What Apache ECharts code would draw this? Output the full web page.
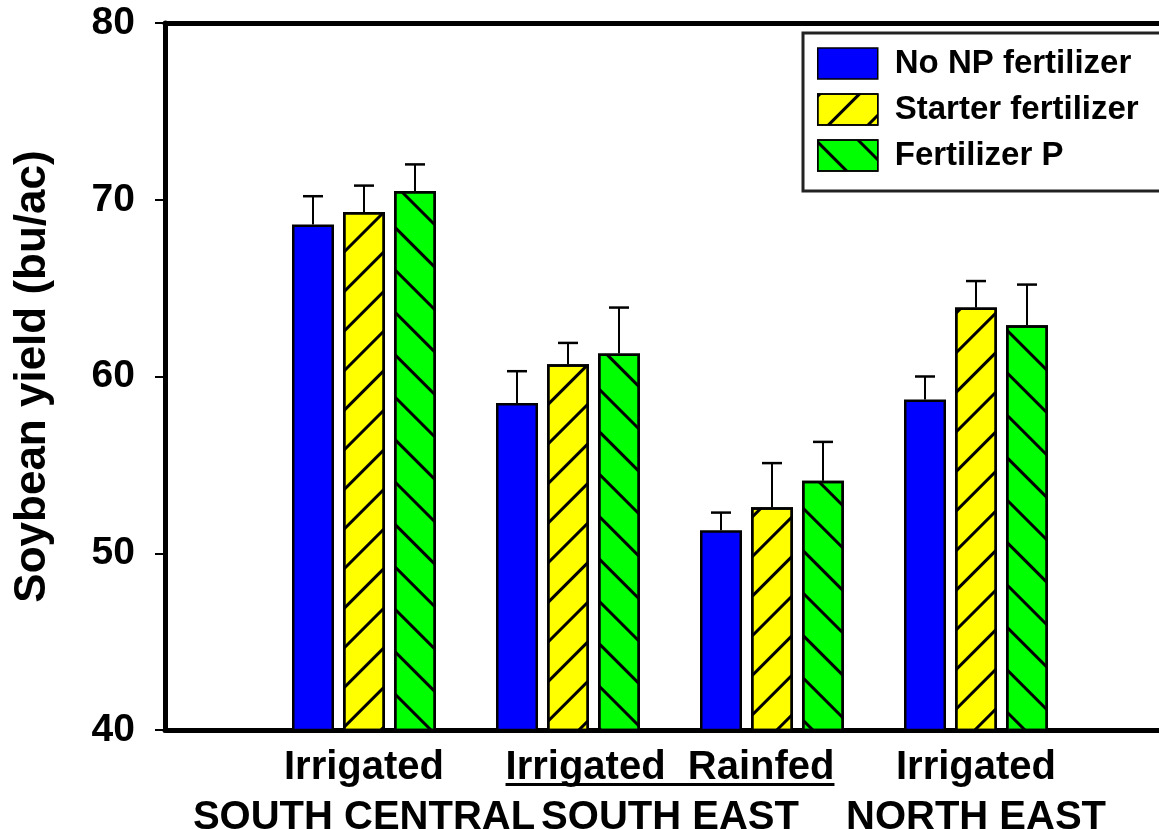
<!DOCTYPE html>
<html>
<head>
<meta charset="utf-8">
<script src="https://cdn.jsdelivr.net/npm/echarts@6/dist/echarts.min.js"></script>
<style>
html,body{margin:0;padding:0;background:#fff;}
#chart{width:1159px;height:829px;}
</style>
</head>
<body>
<div id="chart"></div>
<script>
// ---- data ----
var categories = ['SOUTH CENTRAL Irrigated', 'SOUTH EAST Irrigated', 'SOUTH EAST Rainfed', 'NORTH EAST Irrigated'];
var seriesNames = ['No NP fertilizer', 'Starter fertilizer', 'Fertilizer P'];
var noNP      = [68.6, 58.5, 51.3, 58.7];
var noNPErr   = [1.6, 1.8, 1.0, 1.3];
var starter   = [69.3, 60.7, 52.6, 63.9];
var starterErr= [1.5, 1.2, 2.5, 1.5];
var fertP     = [70.5, 61.3, 54.1, 62.9];
var fertPErr  = [1.5, 2.6, 2.2, 2.3];
var yTicks = [40, 50, 60, 70, 80];
// water-regime line (first label row) and region line (second row), each spanning category indexes
var waterLabels = [
  {text: 'Irrigated', from: 0, to: 0, underline: false},
  {text: 'Irrigated  Rainfed', from: 1, to: 2, underline: true},
  {text: 'Irrigated', from: 3, to: 3, underline: false}
];
var regionLabels = [
  {text: 'SOUTH CENTRAL', from: 0, to: 0},
  {text: 'SOUTH EAST', from: 1, to: 2},
  {text: 'NORTH EAST', from: 3, to: 3}
];

// ---- style ----
var FONT = '"Liberation Sans", Arial, Helvetica, sans-serif';
var BAR_W = 42, BAR_GAP = 9;
var colors = ['#0000ff', '#ffff00', '#00ff00'];
var decals = [
  null,
  {symbol: 'rect', symbolSize: 1, dashArrayX: [1, 0], dashArrayY: [3, 25], rotation: -Math.PI / 4, color: '#000'},
  {symbol: 'rect', symbolSize: 1, dashArrayX: [1, 0], dashArrayY: [3, 27], rotation: Math.PI / 4, color: '#000'}
];
var values = [noNP, starter, fertP];
var errs = [noNPErr, starterErr, fertPErr];

var chart = echarts.init(document.getElementById('chart'), null, {renderer: 'canvas'});

var series = [];
values.forEach(function (vals, k) {
  var st = {color: colors[k], borderColor: '#000', borderWidth: 2.5};
  if (decals[k]) st.decal = decals[k];
  series.push({
    name: seriesNames[k], type: 'bar', xAxisIndex: 1, yAxisIndex: 1,
    barWidth: BAR_W, barGap: (BAR_GAP / BAR_W * 100) + '%',
    itemStyle: st, data: vals, z: 3
  });
});
values.forEach(function (vals, k) {
  var offset = (k - 1) * (BAR_W + BAR_GAP);
  series.push({
    type: 'custom', xAxisIndex: 1, yAxisIndex: 1, z: 4, silent: true,
    data: vals.map(function (v, i) { return [i, v, errs[k][i]]; }),
    encode: {x: 0, y: 1},
    renderItem: function (params, api) {
      var i = api.value(0), v = api.value(1), e = api.value(2);
      var b = api.coord([i, v]), t = api.coord([i, v + e]);
      var x = b[0] + offset;
      return {type: 'group', children: [
        {type: 'line', shape: {x1: x, y1: b[1], x2: x, y2: t[1]}, style: {stroke: '#000', lineWidth: 2}},
        {type: 'line', shape: {x1: x - 10, y1: t[1], x2: x + 10, y2: t[1]}, style: {stroke: '#000', lineWidth: 2.5}}
      ]};
    }
  });
});

var option = {
  animation: false,
  backgroundColor: '#fff',
  textStyle: {fontFamily: FONT},
  grid: [
    {left: 165, right: -20, top: 23, bottom: 99},
    {left: 262, width: 816, top: 23, bottom: 99}
  ],
  xAxis: [
    {gridIndex: 0, type: 'value', min: 0, max: 1, position: 'bottom',
      axisLine: {show: true, onZero: false, lineStyle: {color: '#000', width: 5}},
      axisTick: {show: false}, axisLabel: {show: false}, splitLine: {show: false}},
    {gridIndex: 1, type: 'category', data: categories, show: false},
    {gridIndex: 0, type: 'value', min: 0, max: 1, position: 'top',
      axisLine: {show: true, onZero: false, lineStyle: {color: '#000', width: 5}},
      axisTick: {show: false}, axisLabel: {show: false}, splitLine: {show: false}}
  ],
  yAxis: [
    {gridIndex: 0, type: 'value', min: yTicks[0], max: yTicks[yTicks.length - 1], interval: 10,
      axisLine: {show: true, lineStyle: {color: '#000', width: 5}},
      axisTick: {show: true, inside: false, length: 10, lineStyle: {color: '#000', width: 2}},
      axisLabel: {color: '#000', fontWeight: 'bold', fontSize: 39, fontFamily: FONT, margin: 30},
      splitLine: {show: false},
      name: 'Soybean yield (bu/ac)', nameLocation: 'middle', nameRotate: 90, nameGap: 110,
      nameTextStyle: {color: '#000', fontWeight: 'bold', fontSize: 44, fontFamily: FONT}},
    {gridIndex: 1, type: 'value', min: yTicks[0], max: yTicks[yTicks.length - 1], show: false, splitLine: {show: false}}
  ],
  legend: {
    data: seriesNames.map(function (n) { return {name: n, icon: 'rect'}; }),
    orient: 'vertical', left: 803, top: 33,
    itemWidth: 60, itemHeight: 31, itemGap: 13,
    padding: [14, 40, 19, 14],
    borderColor: '#222', borderWidth: 3, backgroundColor: '#fff',
    textStyle: {color: '#000', fontWeight: 'bold', fontSize: 33, fontFamily: FONT, padding: [0, 0, 0, 12]},
    itemStyle: {borderColor: '#000', borderWidth: 1.5},
    selectedMode: false
  },
  series: series
};
chart.setOption(option);

// category labels placed through the axis scale
function measure(txt, size) {
  var c = document.createElement('canvas').getContext('2d');
  c.font = 'bold ' + size + 'px ' + FONT;
  return c.measureText(txt).width;
}
function centerOf(from, to) {
  var a = chart.convertToPixel({gridIndex: 1}, [from, 40]);
  var b = chart.convertToPixel({gridIndex: 1}, [to, 40]);
  return [(a[0] + b[0]) / 2, a[1]];
}
var graphics = [];
waterLabels.forEach(function (l) {
  var c = centerOf(l.from, l.to);
  graphics.push({type: 'text', x: c[0], y: c[1] + 38, z: 10,
    style: {text: l.text, font: 'bold 40px ' + FONT, fill: '#000', align: 'center', verticalAlign: 'middle'}});
  if (l.underline) {
    var w = measure(l.text, 40);
    graphics.push({type: 'rect', z: 10, shape: {x: c[0] - w / 2, y: c[1] + 53, width: w, height: 3}, style: {fill: '#000'}});
  }
});
regionLabels.forEach(function (l) {
  var c = centerOf(l.from, l.to);
  graphics.push({type: 'text', x: c[0], y: c[1] + 88, z: 10,
    style: {text: l.text, font: 'bold 40px ' + FONT, fill: '#000', align: 'center', verticalAlign: 'middle'}});
});
chart.setOption({graphic: graphics});
</script>
</body>
</html>
